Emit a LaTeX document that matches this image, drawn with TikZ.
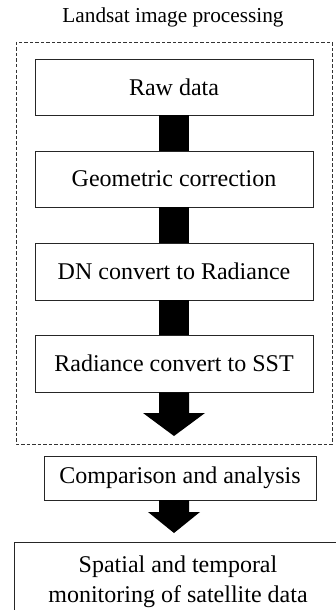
\documentclass[tikz,border=0pt]{standalone}
\usepackage{fontspec}
\setmainfont{Liberation Serif}
\usetikzlibrary{calc}
\tikzset{
  procbox/.style={draw=black!85, line width=0.9pt, fill=white, align=center,
    font=\fontsize{24}{30}\selectfont, inner sep=0pt},
  shaft/.style={fill=black},
  groupframe/.style={draw=black!80, line width=0.8pt, dash pattern=on 3.5pt off 2pt}
}
\begin{document}
\begin{tikzpicture}[x=1pt, y=-1pt]
  \clip (0,0) rectangle (336,610);
  \fill[white] (0,0) rectangle (336,610);

  % title and dashed group frame
  \node[font=\fontsize{21.3}{24}\selectfont, inner sep=0pt] (title) at (173,17) {Landsat image processing};
  \draw[groupframe] (16,42) rectangle (332,444);

  % processing steps
  \node[procbox, minimum width=278pt, minimum height=56pt] (raw) at (174,87) {Raw data};
  \node[procbox, minimum width=278pt, minimum height=56pt] (geo) at (174,179) {Geometric correction};
  \node[procbox, minimum width=278pt, minimum height=57pt] (dn)  at (174,271.5) {DN convert to Radiance};
  \node[procbox, minimum width=278pt, minimum height=57pt] (sst) at (174,363.5) {Radiance convert to SST};
  \node[procbox, minimum width=272pt, minimum height=44pt] (comp) at (180,478) {Comparison and analysis};
  \node[procbox, minimum width=328pt, minimum height=80pt] (mon) at (178,582) {Spatial and temporal\\monitoring of satellite data};

  % thick bars between steps
  \fill[shaft] ($(raw.south)+(-15,0)$) rectangle ($(geo.north)+(15,0)$);
  \fill[shaft] ($(geo.south)+(-15,0)$) rectangle ($(dn.north)+(15,0)$);
  \fill[shaft] ($(dn.south)+(-15,0)$) rectangle ($(sst.north)+(15,0)$);

  % block arrows
  \coordinate (tip1) at (174,436);
  \fill[shaft] ($(sst.south)+(-15,0)$) -- ($(tip1)+(-15,-23)$) -- ($(tip1)+(-31,-23)$)
     -- (tip1) -- ($(tip1)+(31,-23)$) -- ($(tip1)+(15,-23)$) -- ($(sst.south)+(15,0)$) -- cycle;

  \coordinate (tip2) at (174,533);
  \coordinate (base2) at (174,500);
  \fill[shaft] ($(base2)+(-15,0)$) -- ($(tip2)+(-15,-21)$) -- ($(tip2)+(-26,-21)$)
     -- (tip2) -- ($(tip2)+(26,-21)$) -- ($(tip2)+(15,-21)$) -- ($(base2)+(15,0)$) -- cycle;
\end{tikzpicture}
\end{document}
